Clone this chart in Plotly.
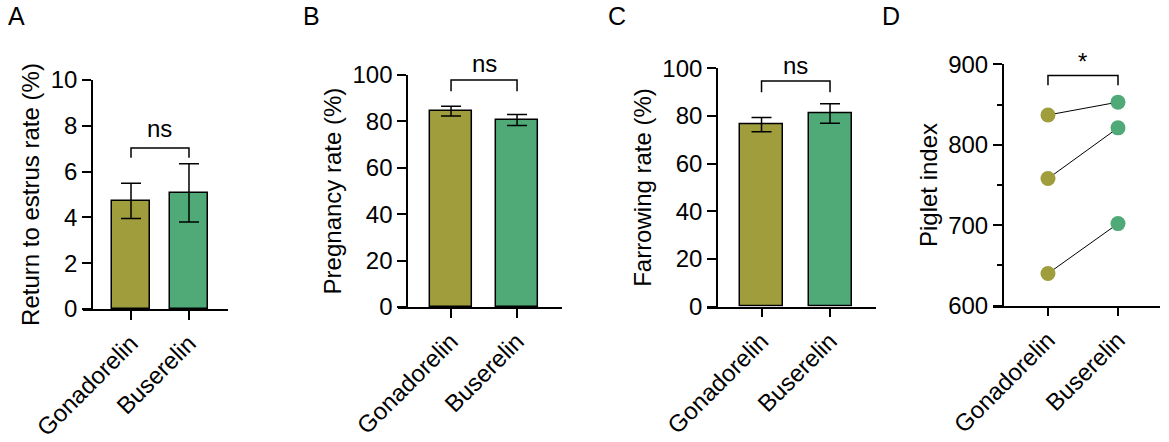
import plotly.graph_objects as go

# groups
groups = ['Gonadorelin', 'Buserelin']
colors = ['#9f9d3c', '#4faa78']

# A - return to estrus rate (%)
estrus_mean = [4.72, 5.07]
estrus_sem = [0.77, 1.27]
# B - pregnancy rate (%)
preg_mean = [84.4, 80.6]
preg_sem = [2.1, 2.4]
# C - farrowing rate (%)
farrow_mean = [76.4, 81.0]
farrow_sem = [3.0, 4.1]
# D - piglet index, paired
piglet_gona = [837, 758, 640]
piglet_buse = [853, 821, 702]

# significance brackets: (top, leg bottom, label, label y)
brackets = [
    (7.03, 6.6, 'ns', 7.9),
    (97.8, 93.0, 'ns', 105.0),
    (94.7, 90.0, 'ns', 101.0),
    (886, 874, '*', 904),
]

FONT = 'Arial, Liberation Sans, sans-serif'
fs = 24

fig = go.Figure()

bar_sets = [(estrus_mean, estrus_sem, 0.655), (preg_mean, preg_sem, 0.636), (farrow_mean, farrow_sem, 0.628)]
for i, (m, s, w) in enumerate(bar_sets):
    n = str(i + 1) if i else ''
    fig.add_trace(go.Bar(
        x=[0, 1], y=m, width=w,
        marker=dict(color=colors, line=dict(color='black', width=1.5)),
        error_y=dict(type='data', array=s, visible=True, color='black', thickness=1.5, width=10),
        xaxis='x' + n, yaxis='y' + n, showlegend=False
    ))

# paired lines for D
for g, b in zip(piglet_gona, piglet_buse):
    fig.add_trace(go.Scatter(x=[0, 1], y=[g, b], mode='lines', line=dict(color='black', width=1),
                             xaxis='x4', yaxis='y4', showlegend=False))
fig.add_trace(go.Scatter(x=[0] * len(piglet_gona), y=piglet_gona, mode='markers',
                         marker=dict(size=15, color=colors[0]), xaxis='x4', yaxis='y4',
                         cliponaxis=False, showlegend=False))
fig.add_trace(go.Scatter(x=[1] * len(piglet_buse), y=piglet_buse, mode='markers',
                         marker=dict(size=15, color=colors[1]), xaxis='x4', yaxis='y4',
                         cliponaxis=False, showlegend=False))

xdoms = [[0.0710, 0.1950], [0.3405, 0.4808], [0.6048, 0.7494], [0.8494, 0.9923]]
xranges = [[-0.828, 1.672], [-0.803, 1.682], [-0.796, 1.672], [-0.786, 1.6]]
ypos = [0.0787, 0.3482, 0.6133, 0.8578]
ydoms = [[0.3009, 0.8190], [0.3054, 0.8303], [0.3061, 0.8455], [0.3084, 0.8545]]
yranges = [[0, 10], [0, 100], [0, 100], [600, 900]]
ydticks = [2, 20, 20, 100]
ytitles = ['Return to estrus rate (%)', 'Pregnancy rate (%)', 'Farrowing rate (%)', 'Piglet index']


def to_paper(i, v):
    # data y value of panel i -> paper fraction
    r0, r1 = yranges[i]
    d0, d1 = ydoms[i]
    return d0 + (v - r0) / (r1 - r0) * (d1 - d0)


layout = {}
for i in range(4):
    n = str(i + 1) if i else ''
    layout['xaxis' + n] = dict(
        domain=xdoms[i], range=xranges[i], anchor='y' + n, automargin=False,
        tickvals=[0, 1], ticktext=groups, tickangle=-45,
        ticks='outside', ticklen=9, tickwidth=1.5, tickcolor='black',
        showline=True, linewidth=1.5, linecolor='black',
        showgrid=False, zeroline=False, fixedrange=True,
        tickfont=dict(size=fs, color='black', family=FONT)
    )
    ya = dict(
        domain=ydoms[i], range=yranges[i], anchor='free', position=ypos[i], automargin=False,
        dtick=ydticks[i], ticks='outside', ticklen=9, tickwidth=1.5, tickcolor='black',
        showline=True, linewidth=1.5, linecolor='black',
        showgrid=False, zeroline=False,
        tickfont=dict(size=fs, color='black', family=FONT),
        title=dict(text=ytitles[i], font=dict(size=24, color='black', family=FONT), standoff=3)
    )
    if i == 3:
        ya['minor'] = dict(ticks='outside', ticklen=5, tickwidth=1.5, tickcolor='black', dtick=50, showgrid=False)
    layout['yaxis' + n] = ya

shapes = []
annotations = []
for i, (top, leg, lab, ly) in enumerate(brackets):
    n = str(i + 1) if i else ''
    shapes.append(dict(type='path', xref='x' + n, yref='paper',
                       path=f'M 0 {to_paper(i, leg)} L 0 {to_paper(i, top)} L 1 {to_paper(i, top)} L 1 {to_paper(i, leg)}',
                       line=dict(color='black', width=1.5)))
    annotations.append(dict(x=0.5, y=to_paper(i, ly), xref='x' + n, yref='paper', text=lab, showarrow=False,
                            yanchor='middle', font=dict(size=fs, color='black', family=FONT)))

letters = ['A', 'B', 'C', 'D']
letter_x = [6, 301, 606, 880]
for L, lx in zip(letters, letter_x):
    annotations.append(dict(x=lx / 1169, y=1.0, xref='paper', yref='paper', text=L, showarrow=False,
                            xanchor='left', yanchor='top', font=dict(size=25, color='black', family=FONT)))

fig.update_layout(
    width=1169, height=442, autosize=False,
    margin=dict(l=0, r=0, t=0, b=0),
    paper_bgcolor='white', plot_bgcolor='white',
    shapes=shapes, annotations=annotations, bargap=0,
    **layout
)

# page body has a default 8px margin; drop it so the figure sits at the corner
fig.write_html("out.html", config={'displayModeBar': False},
               post_script="document.body.style.margin='0';")
